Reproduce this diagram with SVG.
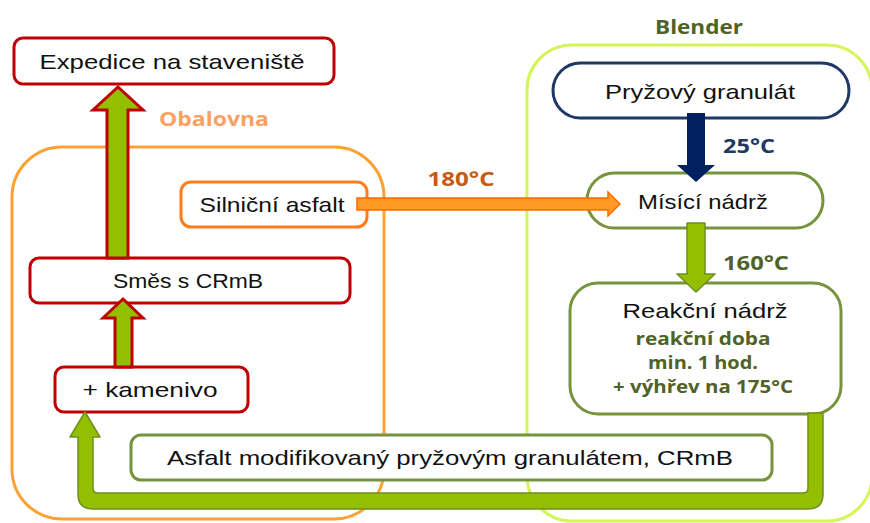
<svg xmlns="http://www.w3.org/2000/svg" width="870" height="523" viewBox="0 0 870 523">
<style>
.t{font-family:"Liberation Sans",Arial,sans-serif;font-size:21px;fill:#111;text-anchor:middle}
.b{font-family:"Open Sans","Liberation Sans",sans-serif;font-weight:bold;text-anchor:middle}
.red{fill:#fff;stroke:#c00000;stroke-width:3}
.olive{fill:#fff;stroke:#77933c;stroke-width:3}
.ga{fill:#92c000;stroke:#6f8f1f;stroke-width:1.5;stroke-linejoin:round}
.ra{fill:#92c000;stroke:#c00000;stroke-width:3;stroke-linejoin:miter}
</style>
<rect width="870" height="523" fill="#fff"/>
<g id="obalovna">
<rect x="12" y="147" width="372" height="372" rx="50" fill="none" stroke="#ffa033" stroke-width="3"/>
<text class="b" x="214" y="126" font-size="20" fill="#f9a062" textLength="110" lengthAdjust="spacingAndGlyphs">Obalovna</text>
</g>
<g id="blender">
<rect x="527" y="45" width="345" height="476" rx="45" fill="none" stroke="#d4f55a" stroke-width="3"/>
<text class="b" x="699" y="34" font-size="20" fill="#4f6228" textLength="88" lengthAdjust="spacingAndGlyphs">Blender</text>
</g>
<g id="expedice">
<rect class="red" x="14" y="38" width="320" height="46" rx="9"/>
<text class="t" x="172" y="69" font-size="22" textLength="265" lengthAdjust="spacingAndGlyphs">Expedice na staveniště</text>
</g>
<g id="silnicni">
<rect x="181" y="182" width="186" height="45" rx="10" fill="#fff" stroke="#ff7c1a" stroke-width="3"/>
<text class="t" x="272" y="212" textLength="145" lengthAdjust="spacingAndGlyphs">Silniční asfalt</text>
</g>
<g id="smes">
<rect class="red" x="30" y="258" width="320" height="45" rx="9"/>
<text class="t" x="188" y="288" textLength="150" lengthAdjust="spacingAndGlyphs">Směs s CRmB</text>
</g>
<g id="kamenivo">
<rect class="red" x="55" y="367" width="193" height="45" rx="9"/>
<text class="t" x="150" y="397" font-size="22" textLength="135" lengthAdjust="spacingAndGlyphs">+ kamenivo</text>
</g>
<g id="asfalt">
<rect class="olive" x="131" y="435" width="641" height="45" rx="10"/>
<text class="t" x="450" y="465" textLength="566" lengthAdjust="spacingAndGlyphs">Asfalt modifikovaný pryžovým granulátem, CRmB</text>
</g>
<g id="pryzovy">
<rect x="553" y="63" width="296" height="55" rx="27.5" fill="#fff" stroke="#1f3864" stroke-width="3"/>
<text class="t" x="700" y="99" textLength="190" lengthAdjust="spacingAndGlyphs">Pryžový granulát</text>
</g>
<g id="misici">
<rect class="olive" x="587" y="173" width="236" height="55" rx="27.5"/>
<text class="t" x="703" y="209" textLength="130" lengthAdjust="spacingAndGlyphs">Mísící nádrž</text>
</g>
<g id="reakcni">
<rect class="olive" x="570" y="283" width="271" height="131" rx="28"/>
<text class="t" x="705" y="318" textLength="165" lengthAdjust="spacingAndGlyphs">Reakční nádrž</text>
<text class="b" x="703" y="345" font-size="17" fill="#4f6228" textLength="135" lengthAdjust="spacingAndGlyphs">reakční doba</text>
<text class="b" x="703" y="369" font-size="17" fill="#4f6228" textLength="110" lengthAdjust="spacingAndGlyphs">min. 1 hod.</text>
<text class="b" x="703" y="393" font-size="17" fill="#4f6228" textLength="180" lengthAdjust="spacingAndGlyphs">+ výhřev na 175°C</text>
</g>
<g id="connectors">
<path class="ra" d="M107,258 V110 H93 L118,87 L143,110 H128 V258 Z"/>
<path class="ra" d="M115,367 V318 H103 L123,299 L143,318 H132 V367 Z"/>
<path d="M357,198 H608 V192 L620,204 L608,216 V210 H357 Z" fill="#ff9a22" stroke="#ff6a00" stroke-width="1.5"/>
<path d="M687,113 V165 H677 L696,182 L715,165 H705 V113 Z" fill="#002060"/>
<path class="ga" d="M687,223 V274 H677 L696,292 L715,274 H705 V223 Z"/>
<path class="ga" d="M808,413 H823 V494 Q823,509 808,509 H93 Q78,509 78,494 V437 H70 L85,412 L100,437 H93 V488 Q93,493 98,493 H803 Q808,493 808,488 Z"/>
<text class="b" x="461" y="186" font-size="19" fill="#c55a11" textLength="67" lengthAdjust="spacingAndGlyphs">180°C</text>
<text class="b" x="749" y="153" font-size="19" fill="#1f3864" textLength="52" lengthAdjust="spacingAndGlyphs">25°C</text>
<text class="b" x="756" y="270" font-size="19" fill="#4f6228" textLength="66" lengthAdjust="spacingAndGlyphs">160°C</text>
</g>
</svg>
